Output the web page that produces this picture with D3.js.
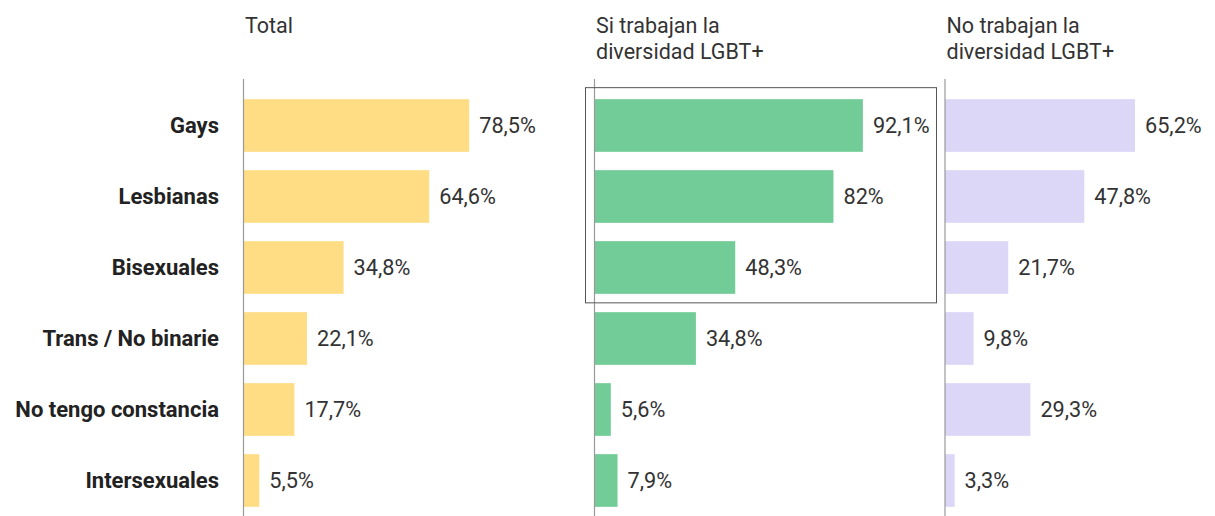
<!DOCTYPE html>
<html>
<head>
<meta charset="utf-8">
<script src="https://cdn.jsdelivr.net/npm/d3@7"></script>
<style>
  html, body { margin: 0; padding: 0; background: #fff; }
  svg { display: block; font-family: Roboto, "Noto Sans", sans-serif; }
</style>
</head>
<body>
<svg id="chart" width="1215" height="516"></svg>
<script>
const categories = ["Gays", "Lesbianas", "Bisexuales", "Trans / No binarie", "No tengo constancia", "Intersexuales"];
const totalValues = [78.5, 64.6, 34.8, 22.1, 17.7, 5.5];
const siTrabajanValues = [92.1, 82, 48.3, 34.8, 5.6, 7.9];
const noTrabajanValues = [65.2, 47.8, 21.7, 9.8, 29.3, 3.3];
const panelTitles = [["Total"], ["Si trabajan la", "diversidad LGBT+"], ["No trabajan la", "diversidad LGBT+"]];
const highlighted = ["Gays", "Lesbianas", "Bisexuales"];

const panels = [
  { title: panelTitles[0], values: totalValues, color: "#fedd84", x0: 243.5, width: 287.5 },
  { title: panelTitles[1], values: siTrabajanValues, color: "#72cc97", x0: 594.5, width: 291.4 },
  { title: panelTitles[2], values: noTrabajanValues, color: "#dcd6f7", x0: 945, width: 291.4 }
];

const svg = d3.select("#chart");
const fmt = v => String(v).replace(".", ",") + "%";

const y = d3.scaleBand()
  .domain(categories)
  .range([90, 516])
  .paddingInner(0.258)
  .paddingOuter(0.129);

// Category labels
svg.append("g").selectAll("text")
  .data(categories)
  .join("text")
  .attr("x", 219)
  .attr("y", d => y(d) + y.bandwidth() / 2)
  .attr("dy", "0.36em")
  .attr("text-anchor", "end")
  .attr("font-size", 22)
  .attr("font-weight", 700)
  .attr("fill", "#222")
  .text(d => d);

panels.forEach((p, pi) => {
  const x = d3.scaleLinear().domain([0, 100]).range([p.x0, p.x0 + p.width]);
  const g = svg.append("g");

  // title
  const t = g.append("text")
    .attr("x", p.x0 + 1.5)
    .attr("y", 33)
    .attr("font-size", 21.5)
    .attr("fill", "#333");
  t.selectAll("tspan")
    .data(p.title)
    .join("tspan")
    .attr("x", p.x0 + 1.5)
    .attr("dy", (d, i) => i === 0 ? 0 : 26)
    .text(d => d);

  // bars
  const data = categories.map((c, i) => ({ c, v: p.values[i] }));
  g.selectAll("rect.bar")
    .data(data)
    .join("rect")
    .attr("class", "bar")
    .attr("x", x(0))
    .attr("y", d => y(d.c))
    .attr("width", d => x(d.v) - x(0))
    .attr("height", y.bandwidth())
    .attr("fill", p.color);

  // value labels
  g.selectAll("text.val")
    .data(data)
    .join("text")
    .attr("class", "val")
    .attr("x", d => x(d.v) + 10)
    .attr("y", d => y(d.c) + y.bandwidth() / 2)
    .attr("dy", "0.36em")
    .attr("font-size", 21.7)
    .attr("fill", "#333")
    .text(d => fmt(d.v));

  // axis line
  g.append("line")
    .attr("x1", x(0)).attr("x2", x(0))
    .attr("y1", 79).attr("y2", 516)
    .attr("stroke", "#999")
    .attr("stroke-width", 1.2);
});

// highlight box around panel 2, first three categories
svg.append("rect")
  .attr("x", 585.5)
  .attr("y", y(highlighted[0]) - 11.5)
  .attr("width", 351)
  .attr("height", (y(highlighted[2]) + y.bandwidth()) - y(highlighted[0]) + 20.5)
  .attr("fill", "none")
  .attr("stroke", "#555")
  .attr("stroke-width", 1);
</script>
</body>
</html>
